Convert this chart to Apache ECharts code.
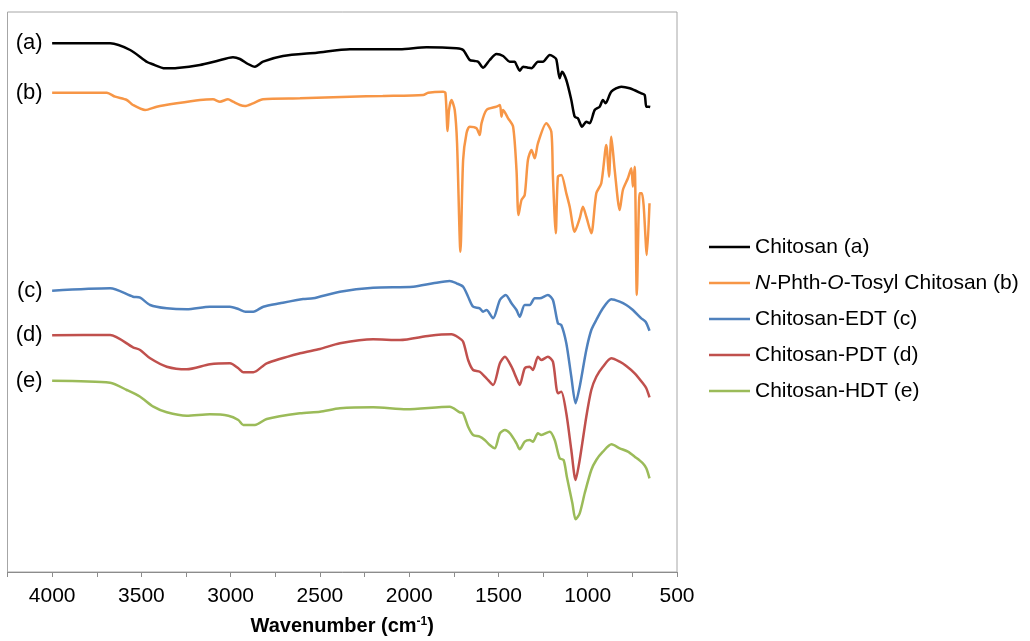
<!DOCTYPE html>
<html>
<head>
<meta charset="utf-8">
<script src="https://cdn.jsdelivr.net/npm/echarts@6/dist/echarts.min.js"></script>
<style>
  html, body { margin: 0; padding: 0; background: #fff; }
  #chart { width: 1030px; height: 641px; }
</style>
</head>
<body>
<div id="chart"></div>
<script>
// spectra: [wavenumber, offset transmittance]
var specA = [[4000,528.7],[3675,528.7],[3563,522],[3468,510],[3440,508],[3368,503.7],[3300,504],[3172,507],[3077,511],[2987,514.7],[2948,513],[2903,508],[2864,505.3],[2819,510.3],[2707,516],[2517,519.3],[2332,522.7],[2052,522.7],[1903,524.7],[1735,523.7],[1698,522],[1661,512],[1633,511],[1614,510.3],[1586,504.3],[1549,512],[1511,518],[1474,516],[1437,510.3],[1409,510.3],[1399,507],[1381,501.3],[1362,505.3],[1335,504.3],[1315,503.7],[1279,510.3],[1251,510.3],[1213,517],[1191,515.3],[1176,512.7],[1157,493.7],[1144,500.3],[1120,492],[1092,472],[1073,455.3],[1055,453.7],[1032,445.3],[1008,450.3],[989,448.7],[961,462],[933,465.3],[915,472],[900,468.7],[868,480.3],[812,485.3],[765,483.7],[700,478.7],[681,477],[672,465.3],[659,465.3],[650,465]];
var specB = [[4000,479.3],[3694,479.3],[3647,475.3],[3582,472],[3547,467],[3479,462],[3414,465.3],[3302,468.7],[3172,472],[3099,472.7],[3060,470.3],[3015,472.7],[2987,470.3],[2948,467],[2920,466],[2875,468.7],[2819,472.7],[2612,473.7],[2332,475.3],[2148,476],[1922,477],[1894,479.3],[1810,480.3],[1797,479],[1785,441],[1777,462],[1763,472],[1745,462],[1732,429],[1713,320.3],[1698,412],[1679,438.7],[1661,445.3],[1623,443.7],[1605,437],[1595,448.7],[1567,462],[1511,465.3],[1492,467],[1483,455.3],[1474,462],[1446,453.7],[1418,445.3],[1399,402],[1388,357],[1371,372],[1353,377],[1335,412],[1315,422],[1297,413.7],[1279,428.7],[1232,448.7],[1204,440.3],[1195,395.3],[1179,338.7],[1167,395.3],[1148,397],[1120,378.7],[1101,365.3],[1073,340.3],[1045,353.7],[1027,365.3],[1008,355.3],[980,338.7],[952,378.7],[924,388.7],[896,427],[881,395.3],[868,435.3],[849,402],[821,362],[803,382],[775,393.7],[756,403.7],[747,385.3],[737,405.3],[725,277],[709,378.7],[697,378.7],[687,367],[669,317],[654,368.7]];
var specC = [[4000,281.3],[3675,283.7],[3547,275.3],[3507,274.3],[3451,267],[3358,263.7],[3246,262.7],[3116,265.3],[3004,265.3],[2957,263],[2917,260.3],[2873,260.3],[2817,265.3],[2724,268.7],[2594,273],[2538,273.7],[2388,280.3],[2202,284.3],[1978,285.3],[1866,288.7],[1773,291],[1735,288.7],[1698,285.3],[1670,275.3],[1642,265.3],[1605,263.7],[1586,260.3],[1567,262],[1530,253.7],[1492,272],[1459,277],[1427,268.7],[1399,262],[1381,255.3],[1353,267],[1325,267],[1297,273.7],[1269,273.7],[1223,277],[1195,272],[1167,248.7],[1148,247],[1120,228.7],[1092,195.3],[1068,168.7],[1045,185.3],[1008,222],[980,242],[952,252],[915,263.7],[868,272.7],[821,270.3],[784,267],[747,262],[700,253.7],[676,250.3],[654,241.3]];
var specD = [[4000,236.7],[3675,237],[3547,224.7],[3507,222],[3451,213.7],[3358,205.3],[3246,202.7],[3116,207.7],[3004,208.7],[2957,203.7],[2929,199.7],[2873,199.7],[2798,208.7],[2612,218.7],[2500,223],[2388,228.7],[2202,232.7],[2052,232],[1885,236.3],[1763,237.7],[1726,234.7],[1698,230.3],[1670,212],[1642,202],[1605,200.3],[1567,193.7],[1530,187],[1492,208.7],[1464,215.3],[1427,205.3],[1399,193.7],[1381,187],[1353,203.7],[1325,205.3],[1307,202],[1279,215.3],[1260,212],[1223,215.3],[1195,210.3],[1167,178.7],[1148,180.3],[1120,158.7],[1092,122],[1068,92],[1045,112],[1008,155.3],[980,182],[952,195.3],[915,205.3],[868,213.7],[821,210.3],[784,206],[737,198.7],[691,188.7],[672,183.7],[654,174.7]];
var specE = [[4000,191.3],[3675,189.3],[3582,182],[3507,175.3],[3433,165.3],[3358,159.7],[3246,156.3],[3116,157.7],[3013,156.3],[2957,152],[2929,147],[2864,147],[2798,153],[2612,158.7],[2500,160.3],[2388,163.7],[2202,164.7],[2015,162.7],[1773,165.3],[1717,159.7],[1698,158.7],[1670,145.3],[1642,137],[1605,135.3],[1577,132],[1549,127],[1521,123.7],[1492,138.7],[1464,142],[1436,138.7],[1399,128.7],[1381,122.7],[1353,130.3],[1325,132],[1307,130.3],[1279,138.7],[1260,137],[1213,140.3],[1185,132],[1157,113.7],[1135,112],[1117,95.3],[1086,68.7],[1068,52.7],[1045,58.7],[1017,78.7],[980,102],[952,112],[915,120.3],[867,127.7],[821,123.7],[775,120.3],[737,115.3],[691,108.7],[672,103.7],[654,93.7]];

var seriesNames = ['Chitosan (a)', 'N-Phth-O-Tosyl Chitosan (b)', 'Chitosan-EDT (c)', 'Chitosan-PDT (d)', 'Chitosan-HDT (e)'];
var curveTags = ['(a)', '(b)', '(c)', '(d)', '(e)'];
var spectra = [specA, specB, specC, specD, specE];
var colors = ['#000000', '#f79646', '#4f81bd', '#c0504d', '#9bbb59'];

var FONT = 'Liberation Sans, Arial, sans-serif';

var chart = echarts.init(document.getElementById('chart'), null, { renderer: 'canvas' });

var series = spectra.map(function(spec, i) {
	return {
		name: seriesNames[i],
		type: 'line',
		data: spec,
		showSymbol: false,
		smooth: 0.25,
		lineStyle: { color: colors[i], width: 2.5 },
		itemStyle: { color: colors[i] },
		silent: true,
		markPoint: {
			symbol: 'circle',
			symbolSize: 1,
			silent: true,
			itemStyle: { color: 'rgba(0,0,0,0)' },
			label: {
				show: true,
				position: 'left',
				distance: 9,
				formatter: curveTags[i],
				fontFamily: FONT,
				fontSize: 22,
				color: '#000'
			},
			data: [{ coord: spec[0] }]
		}
	};
});

var option = {
	animation: false,
	color: colors,
	grid: {
		left: 7.5,
		top: 12,
		right: 353,
		bottom: 69,
		show: true,
		borderColor: '#a6a6a6',
		borderWidth: 1
	},
	legend: {
		orient: 'vertical',
		left: 709,
		top: 235,
		padding: 0,
		icon: 'rect',
		itemWidth: 41,
		itemHeight: 2.5,
		itemGap: 12,
		selectedMode: false,
		data: seriesNames,
		formatter: function(name) {
			if (name.indexOf('N-Phth') === 0) {
				return '{i|N}-Phth-{i|O}-Tosyl Chitosan (b)';
			}
			return name;
		},
		textStyle: {
			fontFamily: FONT,
			fontSize: 21,
			color: '#000',
			lineHeight: 24,
			rich: {
				i: { fontFamily: FONT, fontSize: 21, fontStyle: 'italic', color: '#000' }
			}
		}
	},
	xAxis: {
		type: 'value',
		inverse: true,
		min: 500,
		max: 4250,
		interval: 250,
		name: 'Wavenumber (cm{sup|-1})',
		nameLocation: 'middle',
		nameGap: 44,
		nameTextStyle: {
			fontFamily: FONT,
			fontSize: 20,
			fontWeight: 'bold',
			color: '#000',
			rich: {
				sup: { fontFamily: FONT, fontSize: 12, fontWeight: 'bold', color: '#000', verticalAlign: 'top', padding: [0, 0, 8, 0] }
			}
		},
		axisLine: { show: true, lineStyle: { color: '#8c8c8c', width: 1 } },
		axisTick: { show: true, length: 5, lineStyle: { color: '#8c8c8c' } },
		splitLine: { show: false },
		axisLabel: {
			fontFamily: FONT,
			fontSize: 21,
			color: '#000',
			margin: 14,
			formatter: function(v) { return v % 500 === 0 ? String(v) : ''; }
		}
	},
	yAxis: {
		type: 'value',
		min: 0,
		max: 560,
		show: false,
		splitLine: { show: false }
	},
	series: series
};

chart.setOption(option);
</script>
</body>
</html>
